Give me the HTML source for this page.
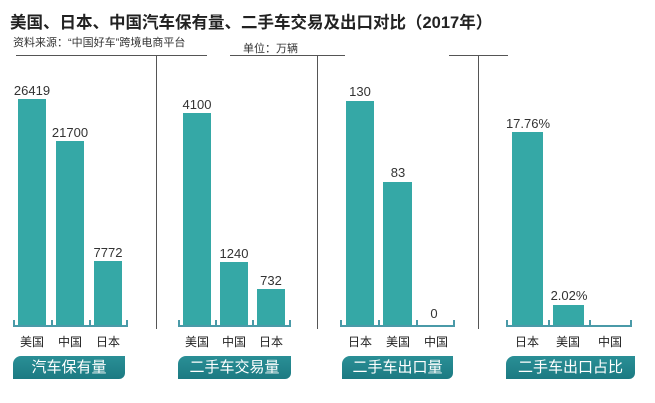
<!DOCTYPE html>
<html><head><meta charset="utf-8"><style>
body{margin:0;width:655px;height:403px;background:#fff;position:relative;overflow:hidden;font-family:"Liberation Sans","Noto Sans CJK SC",sans-serif;color:#222}
.a{position:absolute}
.bar{position:absolute;background:#35a8a6;bottom:77px}
.v{position:absolute;font-size:13px;color:#333;text-align:center;width:50px}
.c{position:absolute;font-size:12px;color:#222;text-align:center;width:40px;top:333px}
.hl{position:absolute;height:1px;background:#555;top:55px}
.vl{position:absolute;width:1px;background:#555;top:55px;height:274px}
.ax{position:absolute;height:2px;background:#4a9aa8;top:325px}
.tk{position:absolute;width:1.5px;height:6px;background:#4a9aa8;top:320px}
.bx{position:absolute;top:356px;height:23px;background:linear-gradient(#2a8f96,#1c7a82);color:#fff;font-size:15px;line-height:23px;text-align:center;border-radius:8px 0 6px 0}
</style></head><body>
<div class="a" style="left:10px;top:9px;font-size:16.5px;font-weight:bold;color:#222">美国、日本、中国汽车保有量、二手车交易及出口对比（2017年）</div>
<div class="a" style="left:13px;top:34px;font-size:11px;color:#333">资料来源：“中国好车”跨境电商平台</div>
<div class="a" style="left:243px;top:40px;font-size:11px;color:#333">单位：万辆</div>
<div class="hl" style="left:16px;width:191px"></div>
<div class="hl" style="left:230px;width:115px"></div>
<div class="hl" style="left:449px;width:59px"></div>
<div class="vl" style="left:156px"></div>
<div class="vl" style="left:317px"></div>
<div class="vl" style="left:478px"></div>

<div class="bar" style="left:18px;width:28px;top:99px"></div>
<div class="bar" style="left:56px;width:28px;top:141px"></div>
<div class="bar" style="left:94px;width:28px;top:261px"></div>
<div class="v" style="left:7px;top:83px">26419</div>
<div class="v" style="left:45px;top:125px">21700</div>
<div class="v" style="left:83px;top:245px">7772</div>
<div class="ax" style="left:13px;width:115px"></div>
<div class="tk" style="left:13px"></div><div class="tk" style="left:51px"></div><div class="tk" style="left:89px"></div><div class="tk" style="left:126px"></div>
<div class="c" style="left:12px">美国</div><div class="c" style="left:50px">中国</div><div class="c" style="left:88px">日本</div>
<div class="bx" style="left:13px;width:112px">汽车保有量</div>

<div class="bar" style="left:183px;width:28px;top:113px"></div>
<div class="bar" style="left:220px;width:28px;top:262px"></div>
<div class="bar" style="left:257px;width:28px;top:289px"></div>
<div class="v" style="left:172px;top:97px">4100</div>
<div class="v" style="left:209px;top:246px">1240</div>
<div class="v" style="left:246px;top:273px">732</div>
<div class="ax" style="left:178px;width:113px"></div>
<div class="tk" style="left:178px"></div><div class="tk" style="left:215px"></div><div class="tk" style="left:252px"></div><div class="tk" style="left:289px"></div>
<div class="c" style="left:177px">美国</div><div class="c" style="left:214px">中国</div><div class="c" style="left:251px">日本</div>
<div class="bx" style="left:178px;width:113px">二手车交易量</div>

<div class="bar" style="left:346px;width:28px;top:101px"></div>
<div class="bar" style="left:383px;width:29px;top:182px"></div>
<div class="v" style="left:335px;top:84px">130</div>
<div class="v" style="left:373px;top:165px">83</div>
<div class="v" style="left:409px;top:306px">0</div>
<div class="ax" style="left:340px;width:115px"></div>
<div class="tk" style="left:340px"></div><div class="tk" style="left:378px"></div><div class="tk" style="left:416px"></div><div class="tk" style="left:453px"></div>
<div class="c" style="left:340px">日本</div><div class="c" style="left:378px">美国</div><div class="c" style="left:416px">中国</div>
<div class="bx" style="left:342px;width:111px">二手车出口量</div>

<div class="bar" style="left:512px;width:31px;top:132px"></div>
<div class="bar" style="left:553px;width:31px;top:305px"></div>
<div class="v" style="left:503px;top:116px">17.76%</div>
<div class="v" style="left:544px;top:288px">2.02%</div>
<div class="ax" style="left:506px;width:126px"></div>
<div class="tk" style="left:506px"></div><div class="tk" style="left:548px"></div><div class="tk" style="left:589px"></div><div class="tk" style="left:630px"></div>
<div class="c" style="left:507px">日本</div><div class="c" style="left:548px">美国</div><div class="c" style="left:590px">中国</div>
<div class="bx" style="left:506px;width:129px">二手车出口占比</div>
</body></html>
